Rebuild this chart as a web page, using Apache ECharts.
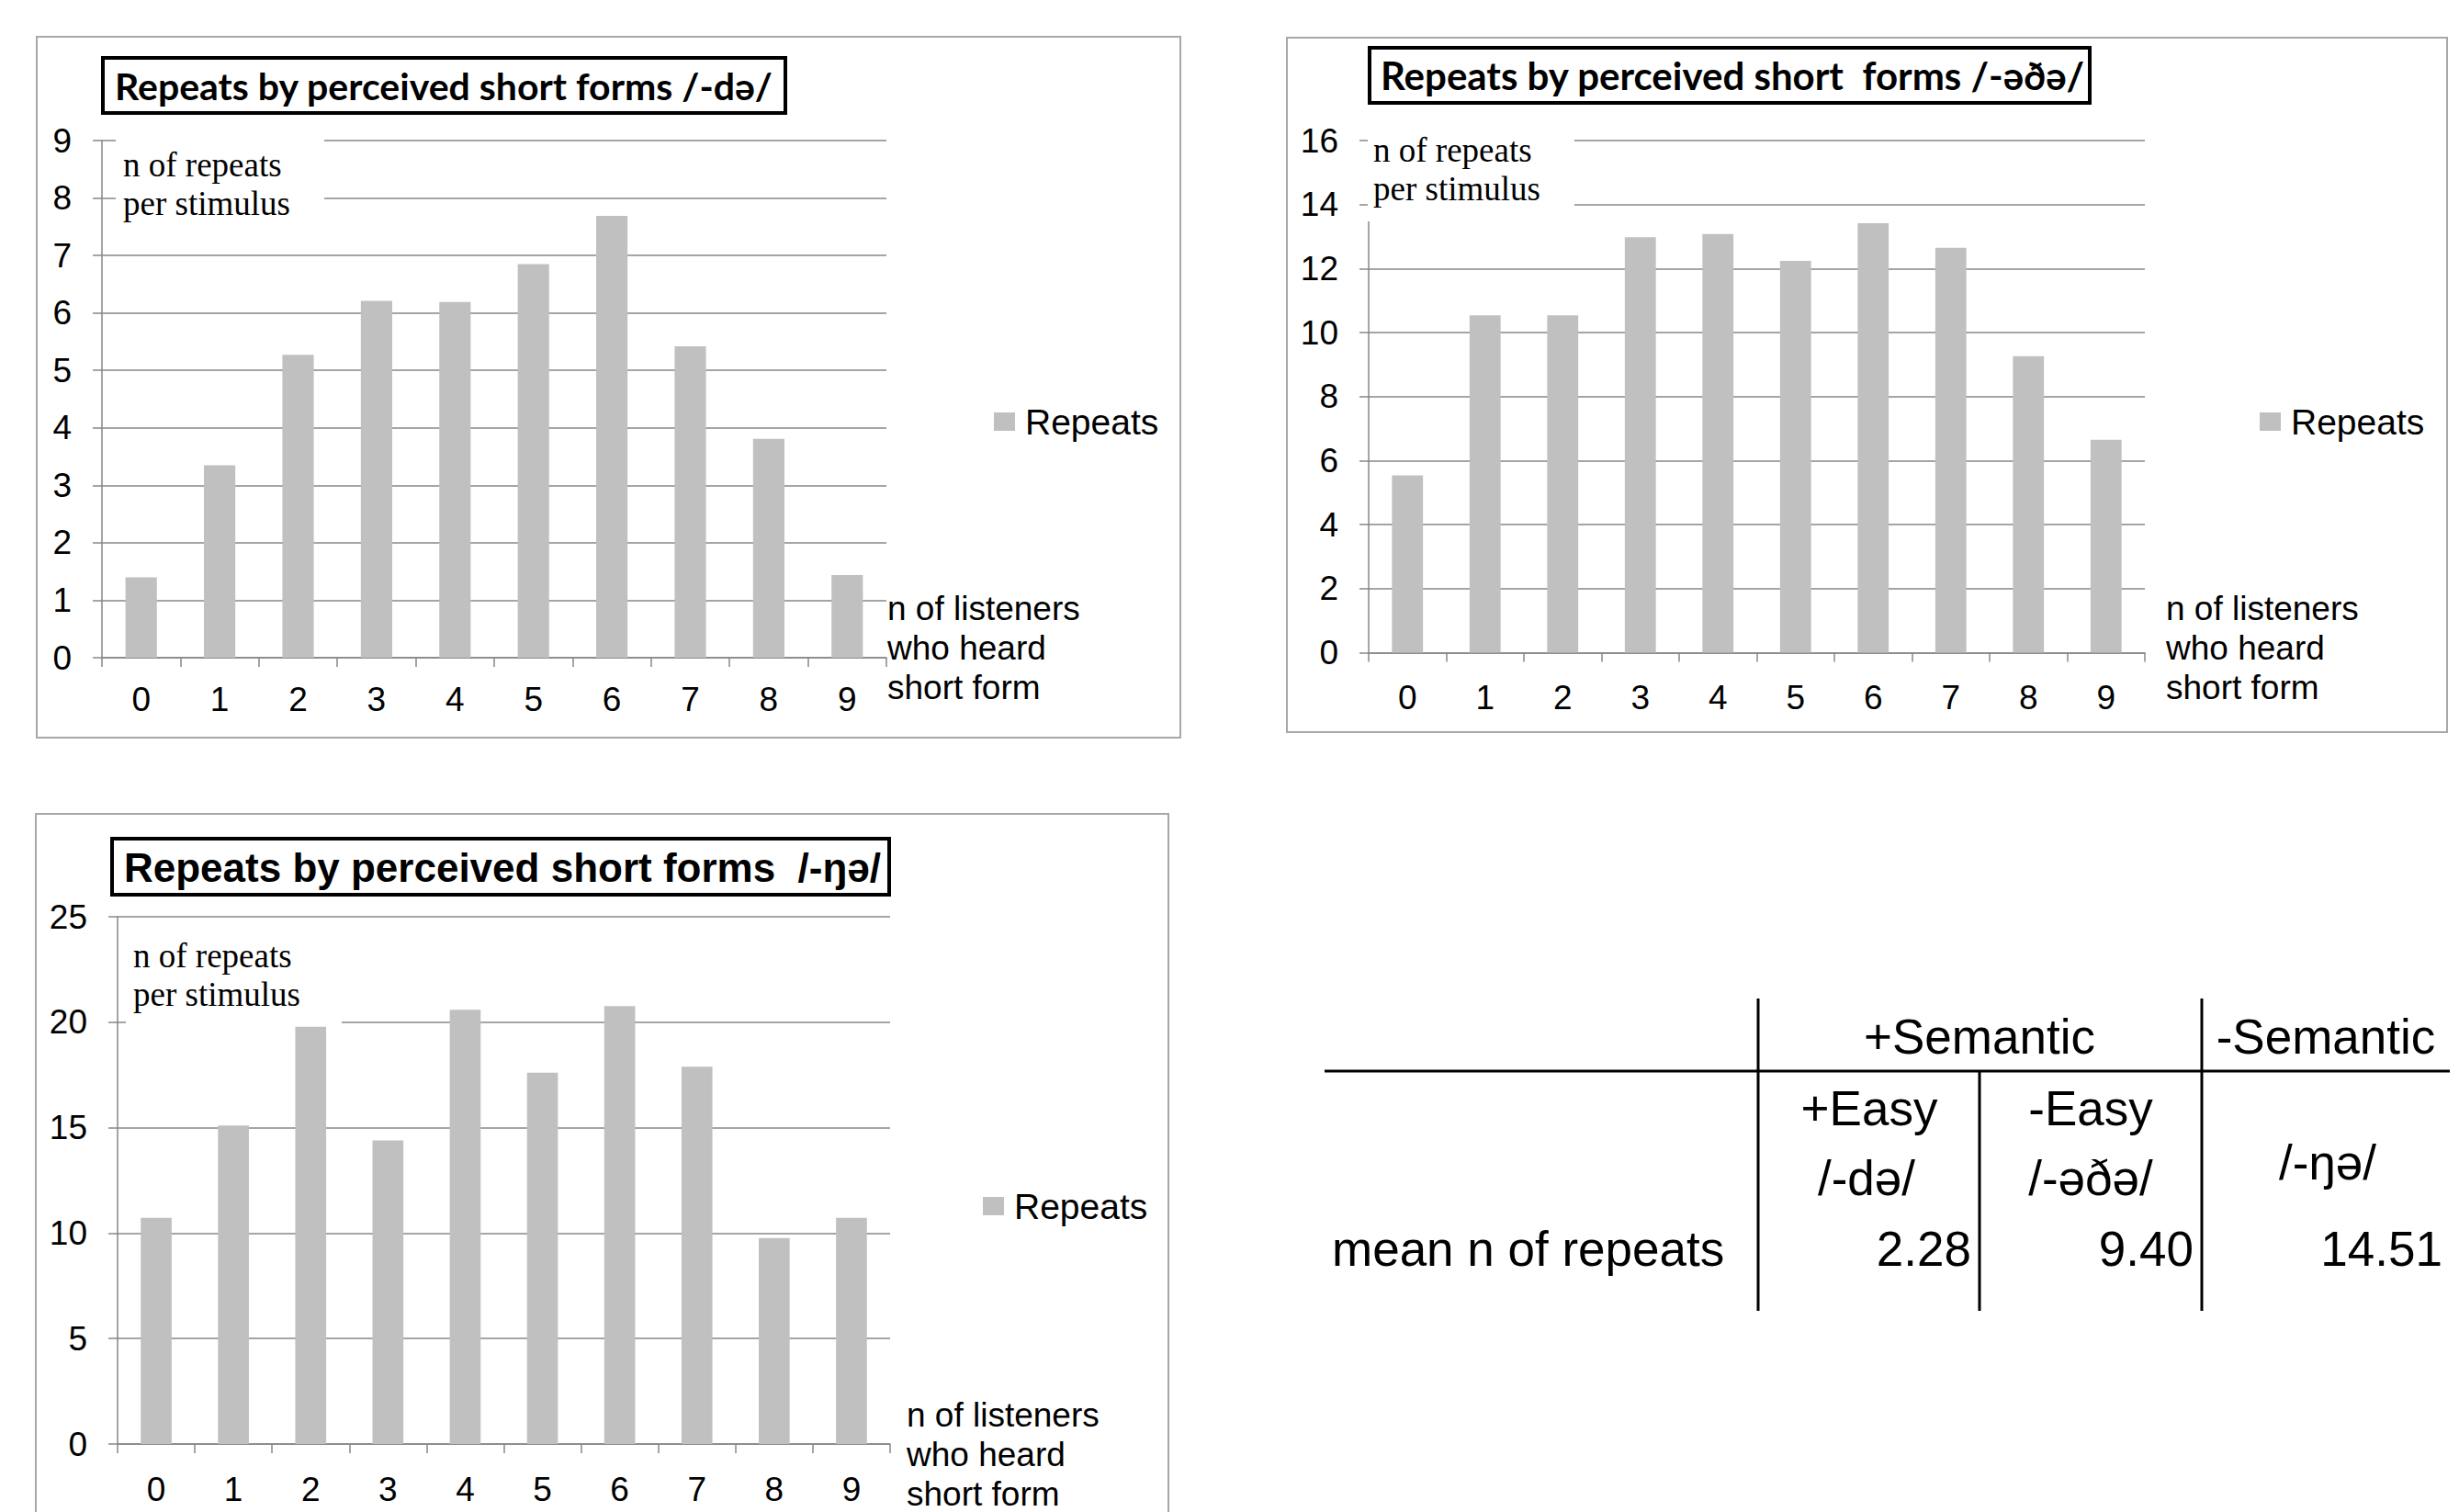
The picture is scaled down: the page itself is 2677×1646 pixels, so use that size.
<!DOCTYPE html>
<html>
<head>
<meta charset="utf-8">
<script src="https://cdn.jsdelivr.net/npm/echarts@6/dist/echarts.min.js"></script>
<style>
  html, body { margin: 0; padding: 0; background: #ffffff; }
  #chart { width: 2677px; height: 1646px; }
</style>
</head>
<body>
<div id="chart"></div>
<script>
// ---- data ----
const listenerCounts = ['0', '1', '2', '3', '4', '5', '6', '7', '8', '9'];
const repeatsDe   = [1.40, 3.35, 5.27, 6.21, 6.19, 6.85, 7.69, 5.42, 3.81, 1.44];
const repeatsEthe = [5.54, 10.54, 10.54, 12.98, 13.08, 12.24, 13.42, 12.65, 9.26, 6.65];
const repeatsNge  = [10.73, 15.10, 19.78, 14.40, 20.59, 17.61, 20.76, 17.89, 9.77, 10.73];

const panelTitles = [
  'Repeats by perceived short forms /-də/',
  'Repeats by perceived short\u00a0 forms /-əðə/',
  'Repeats by perceived short forms \u00a0/-ŋə/'
];
const yMaxima   = [9, 16, 25];
const yStepList = [1, 2, 5];

const seriesName = 'Repeats';
const yNameText = 'n of repeats\nper stimulus';
const xNameText = 'n of listeners\nwho heard\nshort form';

const tableTopHeads = ['+Semantic', '-Semantic'];
const tableSubHeads = ['+Easy', '-Easy'];
const tableForms    = ['/-də/', '/-əðə/', '/-ŋə/'];
const tableRowLabel = 'mean n of repeats';
const tableMeans    = ['2.28', '9.40', '14.51'];

// ---- layout ----
const SANS = '"Liberation Sans", Arial, Helvetica, "DejaVu Sans", sans-serif';
const SERIF = '"Liberation Serif", "Times New Roman", serif';
const GRID_COLOR = '#878787';
const BAR_COLOR = '#c0c0c0';

const panels = [
  { grid: { left: 111, top: 153, width: 854, height: 563 },
    frame: [40, 40, 1245, 763],
    titleBox: [112, 63, 743, 60], titleText: [125, 93], titleFont: 'Lato', titleSize: 41,
    legend: [1082, 439],
    cover: [126, 140, 227, 86], yName: [134, 158],
    xName: [966, 705], xLabelMargin: 27 },
  { grid: { left: 1490, top: 153, width: 845, height: 557.5 },
    frame: [1401, 41, 1263, 756],
    titleBox: [1491, 52, 784, 60], titleText: [1503, 82], titleFont: 'Lato', titleSize: 42,
    legend: [2460, 439],
    cover: [1489, 140, 225, 101], yName: [1495, 142],
    xName: [2358, 705], xLabelMargin: 30 },
  { grid: { left: 128, top: 998, width: 841, height: 574 },
    frame: [39, 886, 1233, 800],
    titleBox: [122, 913, 846, 61], titleText: [135, 944], titleFont: SANS, titleSize: 44,
    legend: [1070, 1293],
    cover: [137, 1005, 235, 110], yName: [145, 1019],
    xName: [987, 1583], xLabelMargin: 31 }
];
const seriesData = [repeatsDe, repeatsEthe, repeatsNge];

const grids = [], xAxes = [], yAxes = [], series = [], legends = [], graphics = [];

panels.forEach((p, i) => {
  grids.push(Object.assign({ outerBoundsMode: 'none', containLabel: false }, p.grid));

  xAxes.push({
    type: 'category', gridIndex: i, data: listenerCounts, boundaryGap: true,
    axisLine: { show: true, lineStyle: { color: GRID_COLOR, width: 1.5 } },
    axisTick: { show: true, length: 10, lineStyle: { color: GRID_COLOR, width: 1.5 } },
    axisLabel: { color: '#000', fontFamily: SANS, fontSize: 37, margin: p.xLabelMargin }
  });

  yAxes.push({
    type: 'value', gridIndex: i, min: 0, max: yMaxima[i], interval: yStepList[i],
    axisLine: { show: true, lineStyle: { color: GRID_COLOR, width: 1.5 } },
    axisTick: { show: true, length: 10, lineStyle: { color: GRID_COLOR, width: 1.5 } },
    splitLine: { show: true, lineStyle: { color: GRID_COLOR, width: 1.5 } },
    axisLabel: { color: '#000', fontFamily: SANS, fontSize: 37, margin: 33 }
  });

  series.push({
    name: seriesName, type: 'bar', xAxisIndex: i, yAxisIndex: i,
    data: seriesData[i], barWidth: '40%', z: 3,
    itemStyle: { color: BAR_COLOR }, emphasis: { disabled: true }
  });

  legends.push({
    data: [seriesName], left: p.legend[0], top: p.legend[1], padding: 0,
    selectedMode: false, icon: 'rect', itemWidth: 23, itemHeight: 20,
    textStyle: { color: '#000', fontFamily: SANS, fontSize: 39, lineHeight: 40, padding: [0, 0, 0, 6] }
  });

  // chart-area frame
  graphics.push({
    type: 'rect', z: 0, silent: true,
    shape: { x: p.frame[0], y: p.frame[1], width: p.frame[2], height: p.frame[3] },
    style: { fill: 'none', stroke: '#a8a8a8', lineWidth: 2 }
  });
  // boxed title
  graphics.push({
    type: 'rect', z: 5, silent: true,
    shape: { x: p.titleBox[0], y: p.titleBox[1], width: p.titleBox[2], height: p.titleBox[3] },
    style: { fill: '#fff', stroke: '#000', lineWidth: 4 }
  });
  graphics.push({
    type: 'text', z: 6, silent: true, x: p.titleText[0], y: p.titleText[1],
    style: { text: panelTitles[i], fill: '#000', fontFamily: p.titleFont, fontWeight: 'bold',
             fontSize: p.titleSize, align: 'left', verticalAlign: 'middle' }
  });
  // value-axis caption sits on a white patch over the grid lines
  graphics.push({
    type: 'rect', z: 1, silent: true,
    shape: { x: p.cover[0], y: p.cover[1], width: p.cover[2], height: p.cover[3] },
    style: { fill: '#fff' }
  });
  graphics.push({
    type: 'text', z: 2, silent: true, x: p.yName[0], y: p.yName[1],
    style: { text: yNameText, fill: '#000', fontFamily: SERIF, fontSize: 37, lineHeight: 42,
             align: 'left', verticalAlign: 'top' }
  });
  // category-axis caption to the right of the axis end
  graphics.push({
    type: 'text', z: 2, silent: true, x: p.xName[0], y: p.xName[1],
    style: { text: xNameText, fill: '#000', fontFamily: SANS, fontSize: 37, lineHeight: 43,
             align: 'left', verticalAlign: 'middle' }
  });
});

// ---- summary table ----
const tCell = (text, x, y, align) => ({
  type: 'text', z: 5, silent: true, x: x, y: y,
  style: { text: text, fill: '#000', fontFamily: SANS, fontSize: 53, align: align, verticalAlign: 'middle' }
});
const tLine = (x1, y1, x2, y2, w) => ({
  type: 'line', z: 5, silent: true,
  shape: { x1: x1, y1: y1, x2: x2, y2: y2 },
  style: { stroke: '#000', lineWidth: w }
});
graphics.push(tLine(1442, 1166, 2667, 1166, 3));
graphics.push(tLine(1914, 1087, 1914, 1427, 3));
graphics.push(tLine(2155, 1166, 2155, 1427, 3));
graphics.push(tLine(2397, 1087, 2397, 1427, 3));
graphics.push(tCell(tableTopHeads[0], 2155, 1128, 'center'));
graphics.push(tCell(tableTopHeads[1], 2532, 1128, 'center'));
graphics.push(tCell(tableSubHeads[0], 2035, 1206, 'center'));
graphics.push(tCell(tableSubHeads[1], 2276, 1206, 'center'));
graphics.push(tCell(tableForms[0], 2032, 1282, 'center'));
graphics.push(tCell(tableForms[1], 2276, 1282, 'center'));
graphics.push(tCell(tableForms[2], 2534, 1265, 'center'));
graphics.push(tCell(tableRowLabel, 1450, 1359, 'left'));
graphics.push(tCell(tableMeans[0], 2146, 1359, 'right'));
graphics.push(tCell(tableMeans[1], 2388, 1359, 'right'));
graphics.push(tCell(tableMeans[2], 2659, 1359, 'right'));

const chart = echarts.init(document.getElementById('chart'), null, { renderer: 'svg' });
chart.setOption({
  animation: false,
  backgroundColor: '#ffffff',
  textStyle: { fontFamily: SANS },
  grid: grids,
  xAxis: xAxes,
  yAxis: yAxes,
  legend: legends,
  series: series,
  graphic: { elements: graphics }
});
</script>
</body>
</html>
